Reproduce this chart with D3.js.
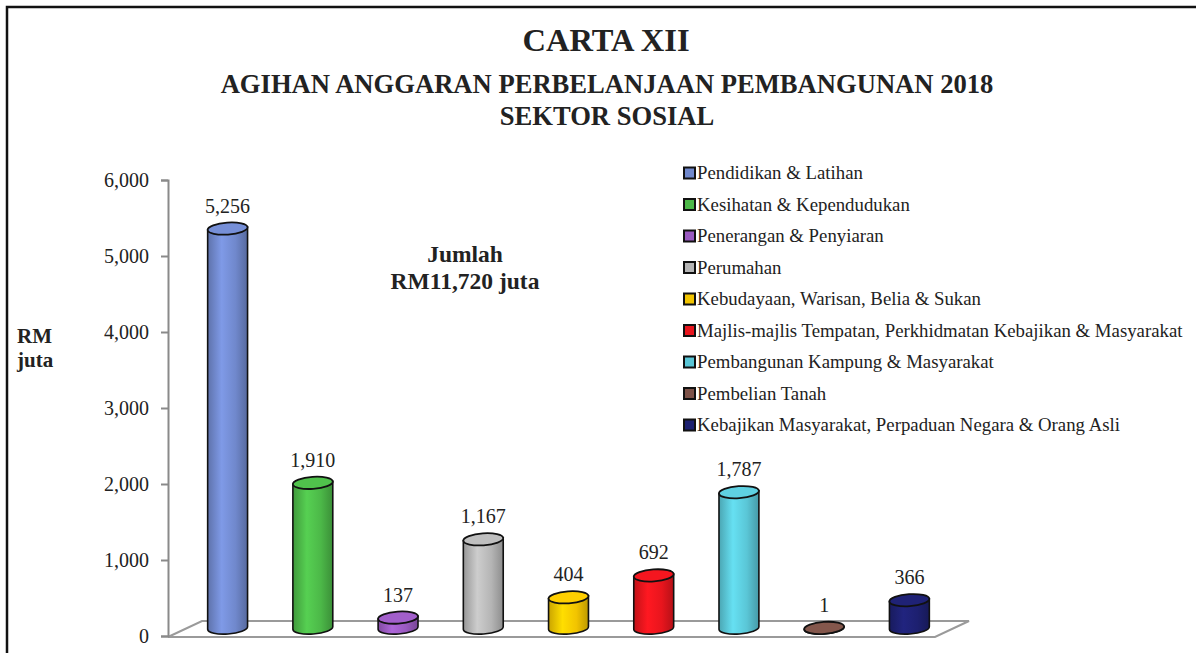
<!DOCTYPE html>
<html><head><meta charset="utf-8">
<script src="https://cdn.jsdelivr.net/npm/d3@7"></script>
</head><body>
<script>
const categories = ["Pendidikan & Latihan","Kesihatan & Kependudukan","Penerangan & Penyiaran","Perumahan","Kebudayaan, Warisan, Belia & Sukan","Majlis-majlis Tempatan, Perkhidmatan Kebajikan & Masyarakat","Pembangunan Kampung & Masyarakat","Pembelian Tanah","Kebajikan Masyarakat, Perpaduan Negara & Orang Asli"];
const values = [5256,1910,137,1167,404,692,1787,1,366];
const valueLabels = ["5,256","1,910","137","1,167","404","692","1,787","1","366"];
const colors = ["#7088cc","#4cb848","#9a5ac0","#b5b5b5","#f2c400","#e8151d","#5ac6d6","#7d5248","#1d2070"];
const yTicks = [0,1000,2000,3000,4000,5000,6000];
const titleMain = "CARTA XII";
const titleSub = ["AGIHAN ANGGARAN PERBELANJAAN PEMBANGUNAN 2018","SEKTOR SOSIAL"];
const totalText = ["Jumlah","RM11,720 juta"];
const yLabel = ["RM","juta"];

const W=1196,H=653;
d3.select("body").style("margin","0");
const svg=d3.select("body").append("svg").attr("width",W).attr("height",H).style("display","block");
function txt(sel){return sel.append("text").style("font-family",'"Times New Roman"');}

svg.append("rect").attr("x",7).attr("y",7).attr("width",W).attr("height",H)
  .attr("fill","#fff").attr("stroke","#111").attr("stroke-width",2.5);

txt(svg).attr("x",606).attr("y",51).attr("text-anchor","middle")
  .attr("font-weight","bold").attr("font-size",32.5).attr("fill","#222").text(titleMain);
titleSub.forEach((t,i)=>txt(svg).attr("x",607).attr("y",93+i*32).attr("text-anchor","middle")
  .attr("font-weight","bold").attr("font-size",26.6).attr("fill","#222").text(t));

const y=d3.scaleLinear().domain([0,6000]).range([636,180]);
const x=d3.scaleBand().domain(categories).range([168,935]);
const dx=34, dy=-16;

const x0=x.range()[0], x1=x.range()[1], y0=y(0);
svg.append("path").attr("d",`M${x0},${y0+1}L${x1},${y0+1}L${x1+dx},${y0+1+dy}L${x0+dx},${y0+1+dy}Z`)
  .attr("fill","#fff").attr("stroke","#9a9a9a").attr("stroke-width",2);

const ax=svg.append("g").attr("transform",`translate(${x0},0)`)
  .call(d3.axisLeft(y).tickValues(yTicks).tickFormat(d3.format(",")).tickSize(7).tickPadding(12));
ax.attr("font-family",null);
ax.select(".domain").attr("stroke","#8a8a8a").attr("stroke-width",2);
ax.selectAll(".tick line").attr("stroke","#8a8a8a").attr("stroke-width",2);
ax.selectAll(".tick text").style("font-family",'"Times New Roman"').attr("font-size",20).attr("fill","#222");

yLabel.forEach((t,i)=>txt(svg).attr("x",17).attr("y",343+i*24)
  .attr("font-weight","bold").attr("font-size",21).attr("fill","#222").text(t));
totalText.forEach((t,i)=>txt(svg).attr("x",465).attr("y",262+i*27).attr("text-anchor","middle")
  .attr("font-weight","bold").attr("font-size",23.5).attr("fill","#222").text(t));

const defs=svg.append("defs");
colors.forEach((c,i)=>{
  const g=defs.append("linearGradient").attr("id","g"+i).attr("x1","0").attr("x2","1").attr("y1","0").attr("y2","0");
  const base=d3.color(c);
  g.append("stop").attr("offset","0%").attr("stop-color",base.darker(0.5));
  g.append("stop").attr("offset","35%").attr("stop-color",base.brighter(0.35));
  g.append("stop").attr("offset","70%").attr("stop-color",base);
  g.append("stop").attr("offset","100%").attr("stop-color",base.darker(0.7));
});

const rx=20, ry=6, th=4*Math.PI/180;
const ex=rx*Math.cos(th), ey=rx*Math.sin(th);
const data=categories.map((c,i)=>({c,v:values[i],lab:valueLabels[i],i}));
const bars=svg.append("g").selectAll("g").data(data).join("g");
bars.each(function(d){
  const g=d3.select(this);
  const cx=x(d.c)+x.bandwidth()/2+dx/2;
  const yb=y(0)+dy/2, yt=y(d.v)+dy/2;
  g.append("path").attr("d",`M${cx-ex},${yt+ey}L${cx-ex},${yb+ey}A${rx},${ry} -4 0 0 ${cx+ex},${yb-ey}L${cx+ex},${yt-ey}Z`)
    .attr("fill",`url(#g${d.i})`).attr("stroke","#111").attr("stroke-width",1.6);
  g.append("ellipse").attr("cx",cx).attr("cy",yt).attr("rx",rx).attr("ry",ry)
    .attr("transform",`rotate(-4,${cx},${yt})`)
    .attr("fill",d3.color(colors[d.i]).brighter(0.15)).attr("stroke","#111").attr("stroke-width",1.8);
  txt(g).attr("x",cx).attr("y",yt-16).attr("text-anchor","middle")
    .attr("font-size",20).attr("fill","#222").text(d.lab);
});

const lg=svg.append("g");
categories.forEach((c,i)=>{
  const yy=173+i*31.5;
  lg.append("rect").attr("x",684).attr("y",yy-5.5).attr("width",11).attr("height",11)
    .attr("fill",colors[i]).attr("stroke","#111").attr("stroke-width",2);
  txt(lg).attr("x",697).attr("y",yy+6).attr("font-size",18.8).attr("fill","#222").text(c);
});
</script>
</body></html>
